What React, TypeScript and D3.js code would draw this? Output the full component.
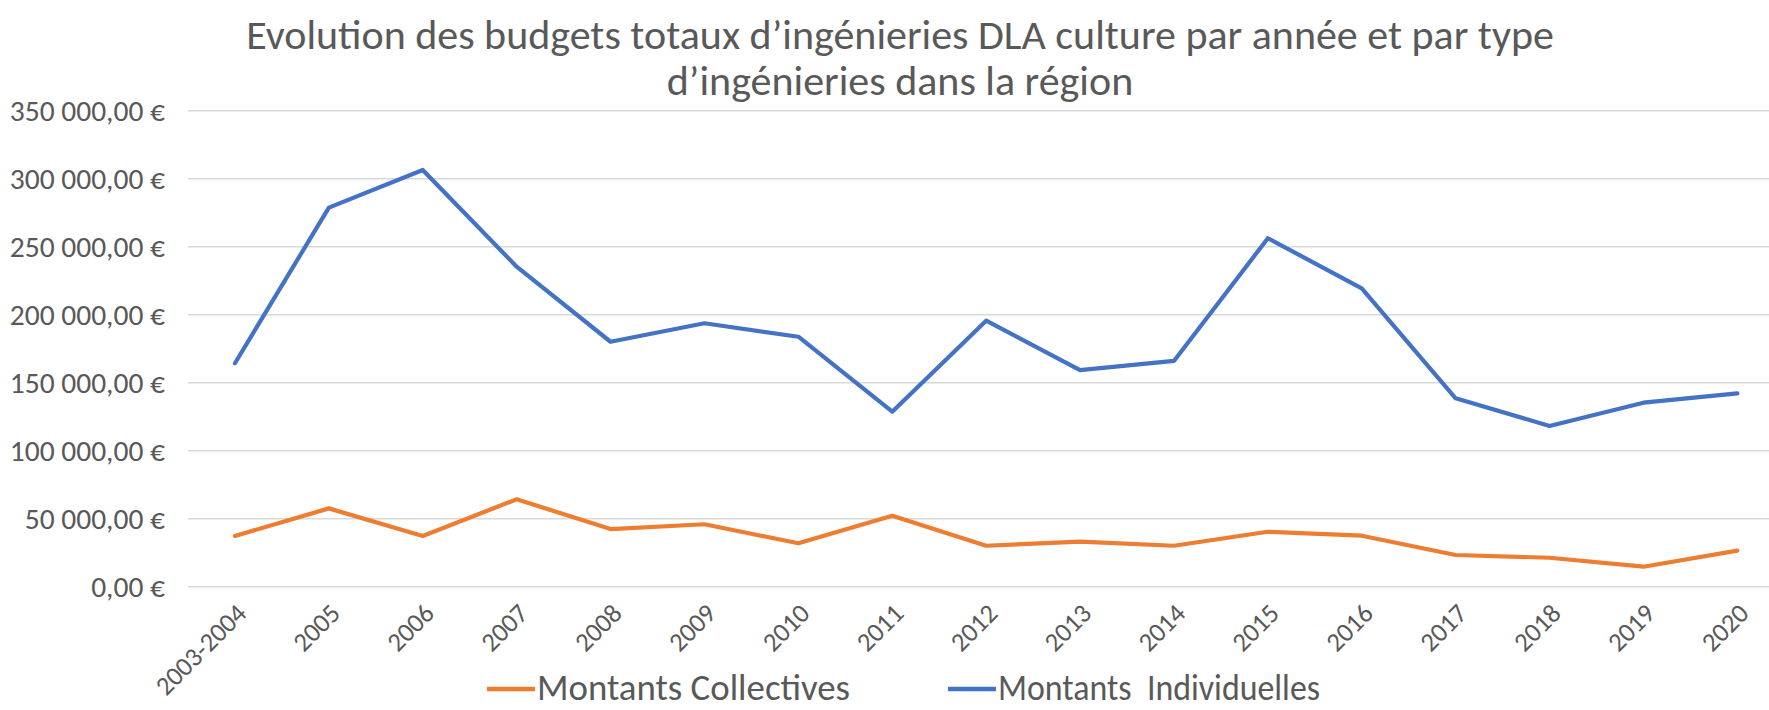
import React from 'react';
import { scaleBand, scaleLinear, line, range } from 'd3';

const categories = ['2003-2004', '2005', '2006', '2007', '2008', '2009', '2010', '2011', '2012',
  '2013', '2014', '2015', '2016', '2017', '2018', '2019', '2020'];

// montants en euros
const collectives = [37300, 57600, 37300, 64300, 42400, 45900, 31900, 52200, 30100,
  33100, 30100, 40400, 37500, 23300, 21300, 14700, 26500];
const individuelles = [164300, 278700, 306400, 235300, 180100, 193700, 183800, 128700, 195600,
  159300, 166000, 256200, 219400, 138500, 118200, 135300, 142200];

const yTicks = [0, 50000, 100000, 150000, 200000, 250000, 300000, 350000];

const titleLines = [
  'Evolution des budgets totaux d’ingénieries DLA culture par année et par type',
  'd’ingénieries dans la région',
];

const seriesNames = ['Montants Collectives', 'Montants  Individuelles'];

const W = 1769;
const H = 710;
const FONT = 'Carlito, Calibri, Lato, sans-serif';
const TEXT = '#595959';
const ORANGE = '#ED7D31';
const BLUE = '#4472C4';

function fmt(v: number) {
  // 350000 -> "350 000,00 €"
  const s = Math.round(v).toString().replace(/\B(?=(\d{3})+(?!\d))/g, ' ');
  return s + ',00 €';
}

export default function App() {
  const left = 188;
  const band = 93.9;
  const x = scaleBand<string>()
    .domain(categories)
    .range([left, left + band * categories.length])
    .padding(0);
  const cx = (c: string) => (x(c) as number) + x.bandwidth() / 2;

  const y = scaleLinear().domain([0, 350000]).range([586.7, 110.7]);

  const mkLine = (vals: number[]) =>
    line<number>()
      .x((_, i) => cx(categories[i]))
      .y(d => y(d))(vals) as string;

  // position / largeur des entrées de légende
  const legendX = [487, 948];
  const legendLen = [313, 322];

  return (
    <div style={{ position: 'absolute', left: 0, top: 0 }}>
      <svg width={W} height={H} style={{ display: 'block', background: '#fff' }}>
        {/* titre */}
        {titleLines.map((t, i) => (
          <text key={i} x={900} y={49 + i * 46} textAnchor="middle" fontFamily={FONT}
            fontSize={42} fill={TEXT}>{t}</text>
        ))}

        {/* grille + axe y */}
        {yTicks.map(t => (
          <g key={t}>
            <line x1={left} x2={W} y1={y(t)} y2={y(t)} stroke="#D9D9D9" strokeWidth={1.5} />
            <text x={165} y={y(t)} dy="0.36em" textAnchor="end" fontFamily={FONT}
              fontSize={29.5} fill={TEXT}>{fmt(t)}</text>
          </g>
        ))}

        {/* axe x */}
        {categories.map(c => (
          <text key={c} textAnchor="end" fontFamily={FONT} fontSize={26.5} fill={TEXT}
            transform={`translate(${cx(c) + 13},${615}) rotate(-45)`}>{c}</text>
        ))}

        {/* séries */}
        <path d={mkLine(collectives)} fill="none" stroke={ORANGE} strokeWidth={4.2}
          strokeLinejoin="round" strokeLinecap="round" />
        <path d={mkLine(individuelles)} fill="none" stroke={BLUE} strokeWidth={4.2}
          strokeLinejoin="round" strokeLinecap="round" />

        {/* légende */}
        {range(2).map(i => {
          const lx = legendX[i];
          return (
            <g key={i}>
              <line x1={lx} x2={lx + 48} y1={689} y2={689} stroke={i === 0 ? ORANGE : BLUE}
                strokeWidth={4.5} />
              <text x={lx + 50} y={700} fontFamily={FONT} fontSize={36} fill={TEXT}
                textLength={legendLen[i]} lengthAdjust="spacingAndGlyphs"
                style={{ whiteSpace: 'pre' }}>{seriesNames[i]}</text>
            </g>
          );
        })}
      </svg>
    </div>
  );
}
